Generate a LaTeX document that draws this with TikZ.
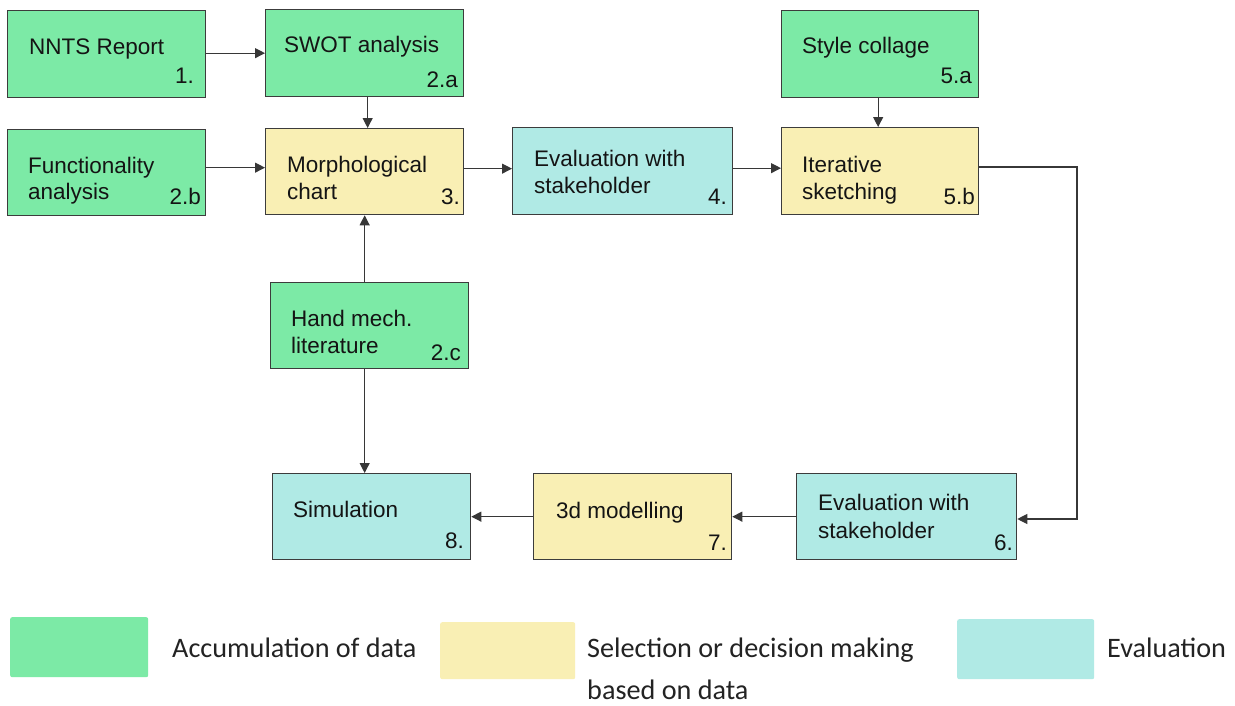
\documentclass[tikz,border=0pt]{standalone}
\usepackage{fontspec}
\setmainfont{Liberation Sans}
\newfontfamily\diafont{Liberation Sans}
\newfontfamily\legfont{Carlito}
\usetikzlibrary{arrows.meta}
\definecolor{cgreen}{RGB}{124,234,166}
\definecolor{cyellow}{RGB}{249,239,180}
\definecolor{ccyan}{RGB}{176,234,229}
\definecolor{cborder}{RGB}{60,60,60}
\definecolor{cline}{RGB}{55,55,55}
\definecolor{ctext}{RGB}{20,20,20}
\definecolor{clegtext}{RGB}{35,35,35}
\tikzset{
  box/.style={draw=cborder, line width=1.3pt, rectangle, inner sep=0pt, anchor=north west},
  gbox/.style={box, fill=cgreen},
  ybox/.style={box, fill=cyellow},
  cbox/.style={box, fill=ccyan},
  txt/.style={inner sep=0pt, anchor=base west, text=ctext, font=\diafont\fontsize{22.5}{27}\selectfont},
  num/.style={inner sep=0pt, anchor=base east, text=ctext, font=\diafont\fontsize{22.5}{27}\selectfont},
  conn/.style={draw=cline, line width=1.1pt, -{Triangle[length=10pt,width=10pt]}},
  legbox/.style={rectangle, rounded corners=2pt, inner sep=0pt, anchor=north west},
  legtxt/.style={inner sep=0pt, anchor=base west, text=clegtext, font=\legfont\fontsize{28.2}{33}\selectfont},
}
\begin{document}
\begin{tikzpicture}[x=1pt,y=-1pt]
\useasboundingbox (0,0) rectangle (1235,705);
\fill[white] (0,0) rectangle (1235,705);

% boxes
\node[gbox, minimum width=198pt, minimum height=87pt] (n1) at (7,10) {};
\node[gbox, minimum width=198pt, minimum height=87pt] (n2a) at (265,9) {};
\node[gbox, minimum width=198pt, minimum height=86pt] (n2b) at (7,129) {};
\node[ybox, minimum width=198pt, minimum height=86pt] (n3) at (265,128) {};
\node[cbox, minimum width=220pt, minimum height=87pt] (n4) at (512,127) {};
\node[gbox, minimum width=197pt, minimum height=87pt] (n5a) at (781,10) {};
\node[ybox, minimum width=197pt, minimum height=87pt] (n5b) at (781,127) {};
\node[gbox, minimum width=198pt, minimum height=86pt] (n2c) at (270,282) {};
\node[cbox, minimum width=198pt, minimum height=86pt] (n8) at (272,473) {};
\node[ybox, minimum width=198pt, minimum height=86pt] (n7) at (533,473) {};
\node[cbox, minimum width=220pt, minimum height=86pt] (n6) at (796,473) {};

% texts
\node[txt] (t1) at (29,54) {NNTS Report};
\node[num] (k1) at (194,83) {1.};
\node[txt] (t2a) at (284,52) {SWOT analysis};
\node[num] (k2a) at (458,87) {2.a};
\node[txt] (t2b1) at (28,173) {Functionality};
\node[txt] (t2b2) at (28,199) {analysis};
\node[num] (k2b) at (201,204) {2.b};
\node[txt] (t31) at (287,172) {Morphological};
\node[txt] (t32) at (287,199) {chart};
\node[num] (k3) at (460,204) {3.};
\node[txt] (t41) at (534,166) {Evaluation with};
\node[txt] (t42) at (534,193) {stakeholder};
\node[num] (k4) at (727,204) {4.};
\node[txt] (t5a) at (802,53) {Style collage};
\node[num] (k5a) at (972,83) {5.a};
\node[txt] (t5b1) at (802,172) {Iterative};
\node[txt] (t5b2) at (802,199) {sketching};
\node[num] (k5b) at (975,204) {5.b};
\node[txt] (t2c1) at (291,326) {Hand mech.};
\node[txt] (t2c2) at (291,353) {literature};
\node[num] (k2c) at (461,360) {2.c};
\node[txt] (t8) at (293,517) {Simulation};
\node[num] (k8) at (464,548) {8.};
\node[txt] (t7) at (556,518) {3d modelling};
\node[num] (k7) at (727,550) {7.};
\node[txt] (t61) at (818,510) {Evaluation with};
\node[txt] (t62) at (818,538) {stakeholder};
\node[num] (k6) at (1013,550) {6.};

% connectors
\coordinate (c1) at (1077,167);
\coordinate (c2) at (1077,519);
\draw[conn] (n1.east |- n2a.west) -- (n2a.west);
\draw[conn] ([xshift=3pt]n2a.south) -- ([xshift=3pt]n3.north);
\draw[conn] ([yshift=5pt]n2b.east) -- ([yshift=5pt]n2b.east -| n3.west);
\draw[conn] ([yshift=3pt]n3.east) -- ([yshift=3pt]n3.east -| n4.west);
\draw[conn] ([yshift=3pt]n4.east) -- ([yshift=3pt]n4.east -| n5b.west);
\draw[conn] ([xshift=-2pt]n5a.south) -- ([xshift=-2pt]n5b.north);
\draw[conn] (n5b.east |- c1) -- (c1) -- (c2) -- (n6.east |- c2);
\draw[conn] (n6.west) -- (n6.west -| n7.east);
\draw[conn] (n7.west) -- (n7.west -| n8.east);
\draw[conn] (n2c.north -| n3.south) -- (n3.south);
\draw[conn] (n2c.south -| n3.south) -- (n8.north -| n3.south);

% legend
\node[legbox, fill=cgreen, minimum width=138pt, minimum height=60pt] (l1) at (10,617) {};
\node[legtxt] (lt1) at (172,657) {Accumulation of data};
\node[legbox, fill=cyellow, minimum width=135pt, minimum height=57pt] (l2) at (440,622) {};
\node[legtxt] (lt2a) at (587,657) {Selection or decision making};
\node[legtxt] (lt2b) at (587,699) {based on data};
\node[legbox, fill=ccyan, minimum width=137pt, minimum height=60pt] (l3) at (957,619) {};
\node[legtxt] (lt3) at (1107,657) {Evaluation};
\end{tikzpicture}
\end{document}
